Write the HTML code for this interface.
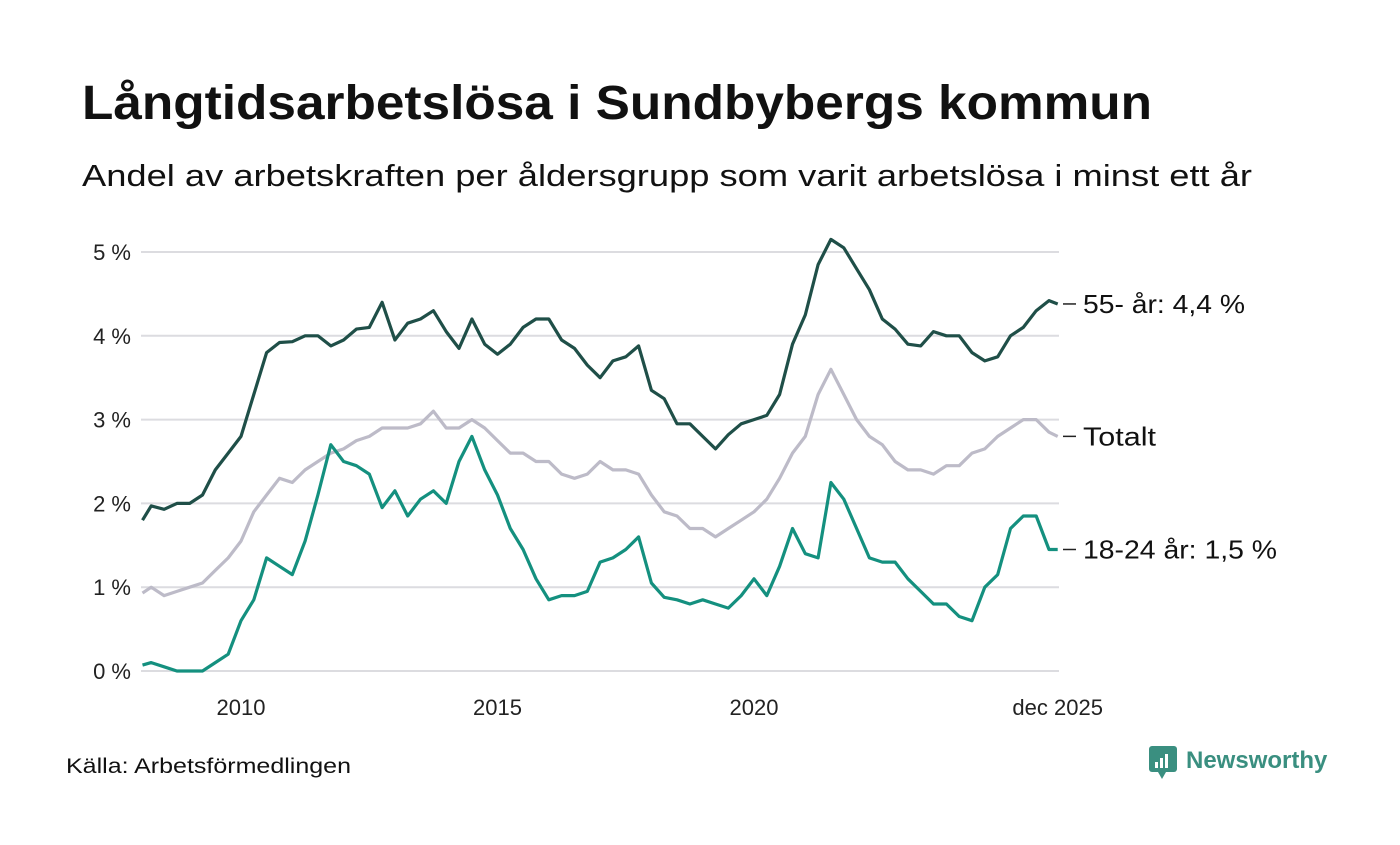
<!DOCTYPE html>
<html><head><meta charset="utf-8">
<style>
body{margin:0;width:1400px;height:840px;background:#fff;font-family:"Liberation Sans",sans-serif;overflow:hidden}
svg text{font-family:"Liberation Sans",sans-serif}
</style></head>
<body>
<svg id="chart" width="1400" height="840">
<text x="82" y="119" font-size="48" font-weight="bold" fill="#111" textLength="1070" lengthAdjust="spacingAndGlyphs">Långtidsarbetslösa i Sundbybergs kommun</text>
<text x="82" y="186" font-size="31" fill="#111" textLength="1170" lengthAdjust="spacingAndGlyphs">Andel av arbetskraften per åldersgrupp som varit arbetslösa i minst ett år</text>
<g id="grid"></g>
<g id="series"></g>
<text x="66" y="773" font-size="21" fill="#111" textLength="285" lengthAdjust="spacingAndGlyphs">Källa: Arbetsförmedlingen</text>
<g>
<rect x="1149" y="746" width="28" height="26" rx="3" fill="#3a8f80"/>
<polygon points="1158,772 1166,772 1162,779" fill="#3a8f80"/>
<rect x="1155" y="762" width="3" height="6" fill="#fff"/><rect x="1160" y="758" width="3" height="10" fill="#fff"/><rect x="1165" y="754" width="3" height="14" fill="#fff"/>
<text x="1186" y="768" font-size="24" font-weight="bold" fill="#3a8f80">Newsworthy</text>
</g>
</svg>
<script>
const dates=[2008.08,2008.25,2008.5,2008.75,2009,2009.25,2009.5,2009.75,2010,2010.25,2010.5,2010.75,2011,2011.25,2011.5,2011.75,2012,2012.25,2012.5,2012.75,2013,2013.25,2013.5,2013.75,2014,2014.25,2014.5,2014.75,2015,2015.25,2015.5,2015.75,2016,2016.25,2016.5,2016.75,2017,2017.25,2017.5,2017.75,2018,2018.25,2018.5,2018.75,2019,2019.25,2019.5,2019.75,2020,2020.25,2020.5,2020.75,2021,2021.25,2021.5,2021.75,2022,2022.25,2022.5,2022.75,2023,2023.25,2023.5,2023.75,2024,2024.25,2024.5,2024.75,2025,2025.25,2025.5,2025.75,2025.92];
const older=[1.8,1.97,1.93,2.0,2.0,2.1,2.4,2.6,2.8,3.3,3.8,3.92,3.93,4.0,4.0,3.88,3.95,4.08,4.1,4.4,3.95,4.15,4.2,4.3,4.05,3.85,4.2,3.9,3.78,3.9,4.1,4.2,4.2,3.95,3.85,3.65,3.5,3.7,3.75,3.88,3.35,3.25,2.95,2.95,2.8,2.65,2.82,2.95,3.0,3.05,3.3,3.9,4.25,4.85,5.15,5.05,4.8,4.55,4.2,4.08,3.9,3.88,4.05,4.0,4.0,3.8,3.7,3.75,4.0,4.1,4.3,4.42,4.38];
const total=[0.93,1.0,0.9,0.95,1.0,1.05,1.2,1.35,1.55,1.9,2.1,2.3,2.25,2.4,2.5,2.6,2.65,2.75,2.8,2.9,2.9,2.9,2.95,3.1,2.9,2.9,3.0,2.9,2.75,2.6,2.6,2.5,2.5,2.35,2.3,2.35,2.5,2.4,2.4,2.35,2.1,1.9,1.85,1.7,1.7,1.6,1.7,1.8,1.9,2.05,2.3,2.6,2.8,3.3,3.6,3.3,3.0,2.8,2.7,2.5,2.4,2.4,2.35,2.45,2.45,2.6,2.65,2.8,2.9,3.0,3.0,2.85,2.8];
const young=[0.07,0.1,0.05,0.0,0.0,0.0,0.1,0.2,0.6,0.85,1.35,1.25,1.15,1.55,2.1,2.7,2.5,2.45,2.35,1.95,2.15,1.85,2.05,2.15,2.0,2.5,2.8,2.4,2.1,1.7,1.45,1.1,0.85,0.9,0.9,0.95,1.3,1.35,1.45,1.6,1.05,0.88,0.85,0.8,0.85,0.8,0.75,0.9,1.1,0.9,1.25,1.7,1.4,1.35,2.25,2.05,1.7,1.35,1.3,1.3,1.1,0.95,0.8,0.8,0.65,0.6,1.0,1.15,1.7,1.85,1.85,1.45,1.45];
const yTicks=[0,1,2,3,4,5];
const yTickLabels=["0 %","1 %","2 %","3 %","4 %","5 %"];
const xTicks=[2010,2015,2020,2025.92];
const xTickLabels=["2010","2015","2020","dec 2025"];
const seriesNames=["55- år: 4,4 %","Totalt","18-24 år: 1,5 %"];

const NS="http://www.w3.org/2000/svg";
const X=t=>241+(t-2010)*51.3;
const Y=v=>671-v*83.8;
const grid=document.getElementById('grid'), sg=document.getElementById('series');
function mk(tag,at,parent){const e=document.createElementNS(NS,tag);for(const k in at)e.setAttribute(k,at[k]);parent.appendChild(e);return e;}
yTicks.forEach((v,i)=>{
  const l=mk('line',{x1:141,x2:1059,y1:Y(v),y2:Y(v),stroke:'#dcdce0','stroke-width':2},grid);
  
  
  const t=mk('text',{x:131,y:Y(v)+8,'text-anchor':'end','font-size':22,fill:'#222'},grid);
  t.textContent=yTickLabels[i];
  
  
});
xTicks.forEach((v,i)=>{
  const t=mk('text',{x:X(v),y:715,'text-anchor':'middle','font-size':22,fill:'#222'},grid);
  t.textContent=xTickLabels[i];
  
  
});
const sets=[[total,'#bdbbc8','line-total'],[young,'#14907f','line-18-24'],[older,'#1f4f48','line-55-plus']];
sets.forEach(([vals,col,nm])=>{
  const p=mk('polyline',{points:vals.map((v,i)=>X(dates[i]).toFixed(1)+','+Y(v).toFixed(1)).join(' '),fill:'none',stroke:col,'stroke-width':3.2,'stroke-linejoin':'round'},sg);
  
  
});
const labVals=[older[older.length-1],total[total.length-1],young[young.length-1]];
const labWidths=[162,73,194];
labVals.forEach((v,i)=>{
  const yy=Y(v);
  mk('line',{x1:1063,x2:1076,y1:yy,y2:yy,stroke:'#222','stroke-width':1.5},sg);
  const t=mk('text',{x:1083,y:yy+9,'font-size':26,fill:'#111',textLength:labWidths[i],lengthAdjust:'spacingAndGlyphs'},sg);
  t.textContent=seriesNames[i];
  
  
});
</script>
</body></html>
